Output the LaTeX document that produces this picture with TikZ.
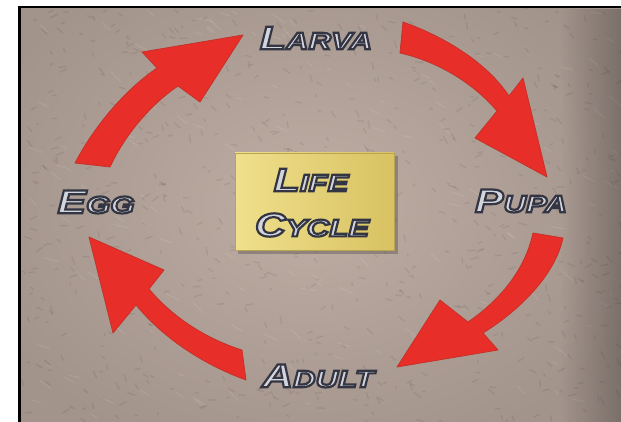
\documentclass[tikz,border=0pt]{standalone}
\usepackage{fontspec}
\newfontfamily\lblfont[FakeStretch=1.3]{Liberation Sans}
\definecolor{bgin}{RGB}{190,174,164}
\definecolor{bgout}{RGB}{162,147,139}
\definecolor{arrowred}{RGB}{232,46,40}
\definecolor{arrowedge}{RGB}{196,50,42}
\definecolor{boxlight}{RGB}{240,224,140}
\definecolor{boxdark}{RGB}{216,194,98}
\definecolor{silvertext}{RGB}{210,213,222}
\newcommand\fsc[2]{{\fontsize{33}{33}\selectfont #1}{\fontsize{24}{24}\selectfont #2}}
\newcommand\outl[1]{\special{pdf:code q 2 Tr 2.2 w 0.20 0.21 0.26 RG}#1\special{pdf:code Q}}
\begin{document}
\begin{tikzpicture}[x=1pt,y=-1pt,
  lbltext/.style={inner sep=0pt, font=\lblfont\bfseries\itshape, text=silvertext},
  cyclearrow/.style={fill=arrowred, draw=arrowedge, line width=0.8pt, line join=round},
  lifebox/.style={minimum width=159pt, minimum height=97pt, inner sep=0pt,
    left color=boxlight, right color=boxdark, draw=boxdark!85!black, line width=0.4pt}]
\useasboundingbox (0,0) rectangle (621,422);
\fill[white] (0,0) rectangle (621,422);
\fill[black] (18,6) rectangle (621,422);
\begin{scope}
  \clip (21,9) rectangle (621,422);
  \shade[inner color=bgin, outer color=bgout] (-40,-60) rectangle (660,470);
  \pgfmathsetseed{4242}
  \foreach \i in {1,...,700}{
    \pgfmathsetmacro\xa{21+600*rnd}
    \pgfmathsetmacro\ya{9+413*rnd}
    \pgfmathsetmacro\an{25+60*rand}
    \pgfmathsetmacro\ln{2+6*rnd}
    \draw[black, opacity=0.07, line width=1.4pt, line cap=round] (\xa,\ya) -- ++(\an:\ln);
  }
  \foreach \i in {1,...,150}{
    \pgfmathsetmacro\xa{21+600*rnd}
    \pgfmathsetmacro\ya{9+413*rnd}
    \pgfmathsetmacro\an{30+20*rand}
    \pgfmathsetmacro\ln{4+12*rnd}
    \draw[white, opacity=0.10, line width=1pt, line cap=round] (\xa,\ya) -- ++(\an:\ln);
  }
  \foreach \i in {1,...,30}{
    \pgfmathsetmacro\op{0.008*\i}
    \fill[black, opacity=\op] (560+2*\i,9) rectangle (562+2*\i,422);
  }
\end{scope}
% centre box
\fill[black, opacity=0.22] (238,156) rectangle (398,254);
\node[lifebox] (box) at (314.5,201.5) {};
% arrows
\fill[cyclearrow] (110,167) -- (75,163) .. controls (95,125) and (125,90) .. (157,68)
  -- (142,52) -- (243,35) -- (200,102) -- (178,86)
  .. controls (150,105) and (125,135) .. (110,167) -- cycle;
\fill[cyclearrow] (403,22) .. controls (440,35) and (485,60) .. (509,96)
  -- (523,78) -- (547,177) -- (475,138) -- (497,111)
  .. controls (475,85) and (440,62) .. (400,53) -- cycle;
\fill[cyclearrow] (533,233) -- (563,238) .. controls (555,275) and (520,310) .. (483,333)
  -- (498,350) -- (397,367) -- (440,300) -- (468,322)
  .. controls (500,300) and (525,270) .. (533,233) -- cycle;
\fill[cyclearrow] (242,350) -- (246,380) .. controls (205,365) and (165,340) .. (136,305)
  -- (113,333) -- (89,237) -- (164,270) -- (149,289)
  .. controls (175,320) and (210,340) .. (242,350) -- cycle;
% labels
\node[lbltext] (larva) at (316,38) {\outl{\fsc{L}{ARVA}}};
\node[lbltext] (egg) at (96,202) {\outl{\fsc{E}{GG}}};
\node[lbltext] (pupa) at (521,201) {\outl{\fsc{P}{UPA}}};
\node[lbltext] (adult) at (318,376) {\outl{\fsc{A}{DULT}}};
\node[lbltext] (life) at (311,180) {\outl{\fsc{L}{IFE}}};
\node[lbltext] (cycle) at (312,225) {\outl{\fsc{C}{YCLE}}};
\end{tikzpicture}
\end{document}
